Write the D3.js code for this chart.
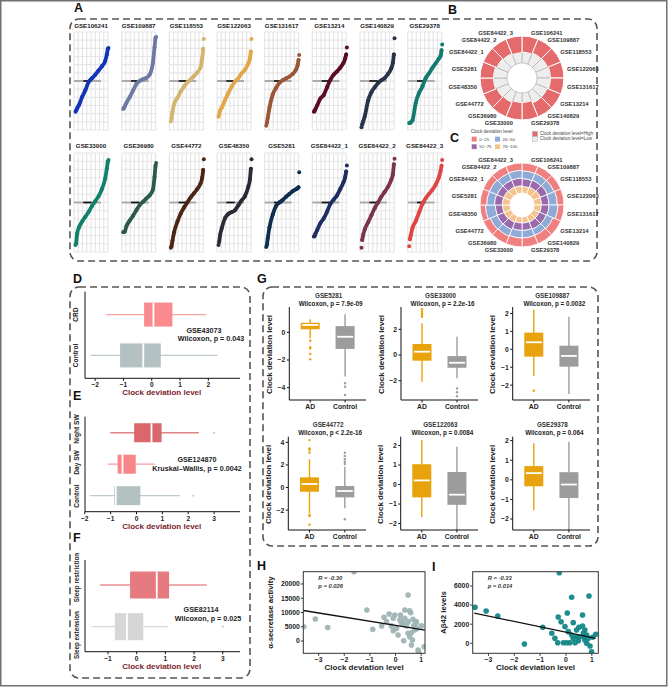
<!DOCTYPE html>
<html><head><meta charset="utf-8">
<script src="https://cdn.jsdelivr.net/npm/d3@7"></script>
<style>
body{margin:0;background:#fff}
svg{display:block}
text{font-family:"Liberation Sans",Arial,Helvetica,sans-serif}
</style></head>
<body><svg id="c" width="672" height="687"></svg>
<script>
// ---------------- DATA ----------------
const datasets = ["GSE106241","GSE109887","GSE118553","GSE122063","GSE131617","GSE13214","GSE140829","GSE29378",
                  "GSE33000","GSE36980","GSE44772","GSE48350","GSE5281","GSE84422_1","GSE84422_2","GSE84422_3"];
const curveColors = ["#1434b8","#6f7aa3","#d2b56f","#e3a74b","#9a5738","#5a0c2c","#273349","#137a6e",
                     "#12806f","#2c5a47","#4c2517","#2b2b37","#0f2f4f","#1f2d63","#7a3646","#e04545"];
const rankQuantiles = [0,.02,.05,.1,.2,.3,.4,.5,.6,.7,.8,.9,.95,.98,1];
const sortedDeviation = [
 [-2.2,-2.1,-1.95,-1.74,-1.15,-0.65,-0.05,0.2,0.45,0.75,1.05,1.43,1.9,2.3,2.35],
 [-2.0,-1.95,-1.8,-1.55,-1.15,-0.68,-0.22,0.0,0.13,0.22,0.45,1.31,2.4,3.1,3.15],
 [-2.9,-2.7,-2.2,-1.65,-1.2,-0.75,-0.4,-0.1,0.12,0.35,0.6,1.0,1.6,2.3,3.0],
 [-2.55,-2.4,-2.1,-1.9,-1.35,-0.85,-0.4,-0.05,0.2,0.55,0.8,1.25,1.6,2.1,3.0],
 [-3.2,-3.0,-2.6,-1.9,-0.95,-0.5,-0.12,0.05,0.18,0.3,0.5,0.8,1.1,1.5,1.85],
 [-2.2,-2.15,-2.0,-1.75,-1.25,-1.0,-0.45,0.08,0.45,0.68,0.95,1.31,1.6,1.9,2.4],
 [-3.3,-3.1,-2.9,-2.5,-1.4,-0.8,-0.45,-0.15,0.05,0.2,0.5,0.9,1.3,1.9,3.05],
 [-3.0,-3.0,-2.95,-2.8,-1.55,-0.85,-0.4,0.2,0.55,0.93,1.25,1.6,1.79,2.2,2.6],
 [-3.0,-2.9,-2.2,-1.8,-1.35,-1.0,-0.65,-0.25,0.1,0.45,0.95,1.7,2.4,2.9,3.0],
 [-2.1,-2.08,-2.05,-1.67,-1.28,-0.93,-0.55,-0.18,0.05,0.28,0.5,0.9,1.8,2.6,2.8],
 [-3.2,-3.1,-2.7,-2.1,-1.35,-0.78,-0.35,0.0,0.36,0.65,0.95,1.35,1.75,2.3,3.05],
 [-3.0,-2.8,-2.3,-1.8,-1.1,-0.8,-0.68,-0.55,-0.2,0.15,0.45,1.1,1.6,2.38,3.05],
 [-3.15,-3.0,-2.5,-1.75,-0.85,-0.24,0.0,0.18,0.4,0.6,0.8,0.93,1.0,1.07,2.14],
 [-2.4,-2.38,-2.2,-1.95,-1.45,-1.12,-0.65,-0.1,0.2,0.5,0.95,1.45,1.8,2.2,2.62],
 [-3.2,-2.65,-2.3,-1.9,-1.4,-0.9,-0.4,0.0,0.4,0.75,1.1,1.6,2.0,2.7,3.1],
 [-3.1,-2.6,-2.3,-1.8,-1.3,-0.7,-0.1,0.3,0.6,0.9,1.25,1.8,2.2,2.6,3.0]
];
// B: share of samples with low clock deviation
const lowShare = [0.40,0.45,0.47,0.50,0.50,0.45,0.45,0.35,0.35,0.42,0.45,0.50,0.50,0.45,0.42,0.38];
// C: shares per deviation-level quartile
const share76to100 = [.22,.25,.27,.25,.24,.22,.22,.20,.20,.23,.25,.25,.26,.26,.25,.24];
const share51to75  = [.26,.25,.25,.25,.26,.26,.26,.25,.25,.26,.25,.24,.26,.24,.25,.26];
const share26to50  = [.26,.25,.24,.28,.30,.24,.22,.25,.25,.24,.25,.33,.26,.28,.25,.26];
const share0to25   = [.26,.25,.24,.22,.20,.28,.30,.30,.30,.27,.25,.18,.22,.22,.25,.24];
const quartileLabels = ["0~25","26~50","51~75","76~100"];
const quartileColors = ["#f07f80","#8eaad6","#9a6aac","#f4c38e"];

// D/E/F boxplots: [lo, q1, median, q3, hi]
const dGroups = ["CRD","Control"];
const dStats = [[-1.61,-0.27,0.06,0.73,1.92],[-2.16,-1.12,-0.30,0.32,2.32]];
const dOutliers = [[],[]];
const eGroups = ["Night SW","Day SW","Control"];
const eStats = [[-1.01,-0.09,0.58,0.97,2.41],[-1.11,-0.73,-0.54,-0.03,0.71],[-1.80,-0.86,-0.80,0.15,1.67]];
const eOutliers = [[3.0],[],[2.19]];
const fGroups = ["Sleep restriction","Sleep extension"];
const fStats = [[-1.28,-0.23,0.70,1.13,2.44],[-1.57,-0.76,-0.34,0.23,1.10]];
const fOutliers = [[],[3.0]];

// G boxplots
const gTitles = ["GSE5281","GSE33000","GSE109887","GSE44772","GSE122063","GSE29378"];
const gTests = ["Wilcoxon, p = 7.9e-09","Wilcoxon, p = 2.2e-16","Wilcoxon, p = 0.0032",
                "Wilcoxon, p < 2.2e-16","Wilcoxon, p = 0.0084","Wilcoxon, p = 0.064"];
const gGroups = ["AD","Control"];
const gTicks = [[0,-2,-4],[2,0,-2],[2,1,0,-1,-2],[4,2,0,-2],[2,1,0,-1,-2],[2,1,0,-1,-2]];
const gYDomains = [[-4.89,1.83],[-3.5,3.74],[-2.83,2.36],[-3.76,4.5],[-2.33,2.45],[-2.56,2.2]];
const gStatsAD = [[-0.43,0.22,0.53,0.69,0.94],[-2.08,-0.44,0.26,0.86,2.47],[-1.49,-0.41,0.39,0.93,2.2],
                  [-2.28,-0.37,0.31,0.9,2.5],[-1.66,-0.66,0.21,1.04,2.28],[-1.55,-0.33,0.34,0.7,1.86]];
const gStatsCtrl = [[-3.2,-1.2,-0.32,0.45,1.3],[-1.81,-0.99,-0.6,-0.08,1.42],[-2.5,-0.97,-0.37,0.2,1.82],
                    [-1.84,-0.87,-0.31,0.13,1.84],[-2.33,-1.04,-0.52,0.64,1.93],[-2.56,-0.93,-0.24,0.39,1.94]];
const gOutAD = [[-0.61,-1.08,-1.16,-1.57,-1.95],[2.98,3.11,3.24,3.37,3.56],[-2.31],
                [4.2,3.47,3.32,3.08,-2.43,-2.52,-3.3],[],[]];
const gOutCtrl = [[-3.68,-3.93,-4.53],[-2.6,-2.9,-3.2],[],[3.08,2.79,2.5,2.28,2.08,-2.81],[],[]];

// H / I scatter
const hX = [-1.62,-3.58,-3.13,-2.65,-1.12,-0.89,-0.45,-0.25,-0.03,0.19,0.49,0.55,0.59,-0.35,-0.16,-0.09,0.04,0.17,0.29,0.32,0.10,0.36,0.43,0.49,0.55,0.62,0.66,0.68,0.71,0.75,0.79,0.81,0.84,0.88,0.90,1.01,1.12,0.62,0.49,0.36,0.23,-0.09,-0.54];
const hY = [24300,5000,7700,4700,10900,4100,8300,9500,9100,9100,16100,10600,9900,6800,5300,3600,4400,7400,6200,100,2100,8000,5300,2700,1500,-1400,350,7600,5300,3900,6200,6800,4400,-3200,-3800,5300,-2000,2900,6800,10900,6400,8000,5300];
const hFitX = [-3.6,1.15], hFitY = [10700,3800];
const iX = [-3.52,-3.09,-2.64,-1.61,-0.9,-0.26,0.22,0.89,0.05,-0.3,-0.19,0.28,-0.55,-0.43,-0.32,0.5,0.41,0.73,0.8,0.93,0.99,1.15,-0.04,0.09,0.22,0.41,0.51,0.64,0.7,0.28,0.48,-0.1,0.03,0.15,0.35,0.67,0.8,0.73,0.64,0.86,1.03];
const iY = [3770,3380,2860,-70,1680,7390,4820,4950,3170,2750,2260,2160,1050,520,60,1680,690,350,0,-280,-880,940,1740,1220,870,1390,630,1810,630,520,270,60,60,60,60,1050,870,1390,2960,520,630];
const iFitX = [-3.55,1.15], iFitY = [3150,520];

// ---------------- DRAW ----------------
const svg = d3.select("#c");
const BOLD = "bold";
svg.append("rect").attr("x",0.75).attr("y",0.75).attr("width",666).attr("height",685)
  .attr("fill","none").attr("stroke","#707070").attr("stroke-width",1.5);

function dashedBox(x,y,w,h){
  svg.append("rect").attr("x",x).attr("y",y).attr("width",w).attr("height",h).attr("rx",9)
    .attr("fill","none").attr("stroke","#555").attr("stroke-width",1.6).attr("stroke-dasharray","7,4");
}
dashedBox(70,19,527,242);
dashedBox(70,287,180,391);
dashedBox(263,287,335,259);

function panelLabel(t,x,y){
  svg.append("text").attr("x",x).attr("y",y).text(t).attr("font-size",12.5).attr("font-weight",BOLD).attr("fill","#111");
}
[["A",74,12],["B",448,14],["C",450,142],["D",73,283],["E",73,400],["F",73,542],["G",257,283],["H",257,570],["I",432,571]]
  .forEach(d=>panelLabel(...d));

function txt(g,t,x,y,size,opts={}){
  const e = g.append("text").attr("x",x).attr("y",y).text(t).attr("font-size",size)
    .attr("font-weight",opts.weight||BOLD).attr("fill",opts.fill||"#222")
    .attr("text-anchor",opts.anchor||"start");
  if(opts.italic) e.attr("font-style","italic");
  if(opts.rotate) e.attr("transform",`rotate(-90,${x},${y})`);
  if(opts.dy) e.attr("dy",opts.dy);
  return e;
}

// ---- Panel A ----
const colW = 47.67, gx0 = 74, gw = 34;
const rowsY = [[32,130],[153,252]];
const titleY = [27.5,147.5];
datasets.forEach((name,i)=>{
  const row = Math.floor(i/8), col = i%8;
  const x0 = gx0 + col*colW;
  const [yt,yb] = rowsY[row];
  const g = svg.append("g");
  const xs = d3.scaleLinear().domain([0,1]).range([x0+1.5,x0+gw+0.5]);
  const ys = d3.scaleLinear().domain([-3.5,3.5]).range([yb,yt]);
  for(let k=0;k<=8;k++){
    const xx = x0 + k*gw/8;
    g.append("line").attr("x1",xx).attr("x2",xx).attr("y1",yt).attr("y2",yb).attr("stroke","#e6e6e6").attr("stroke-width",1.2);
  }
  for(let k=0;k<=12;k++){
    const yy = yt + k*(yb-yt)/12;
    g.append("line").attr("x1",x0).attr("x2",x0+gw).attr("y1",yy).attr("y2",yy).attr("stroke","#e6e6e6").attr("stroke-width",1.2);
  }
  g.append("line").attr("x1",x0).attr("x2",x0+27).attr("y1",ys(0)).attr("y2",ys(0)).attr("stroke","#ababab").attr("stroke-width",2);
  g.append("line").attr("x1",x0+9.3).attr("x2",x0+17.7).attr("y1",ys(0)).attr("y2",ys(0)).attr("stroke","#111").attr("stroke-width",1.6);
  const pts = rankQuantiles.map((q,k)=>[q,sortedDeviation[i][k]]);
  const line = d3.line().x(d=>xs(d[0])).y(d=>ys(d[1])).curve(d3.curveMonotoneX);
  g.append("path").attr("d",line(pts.slice(1,14))).attr("fill","none").attr("stroke",curveColors[i])
    .attr("stroke-width",3.8).attr("stroke-linecap","round");
  g.selectAll("circle").data(pts).enter().append("circle").attr("cx",d=>xs(d[0])).attr("cy",d=>ys(d[1]))
    .attr("r",2).attr("fill",curveColors[i]);
  txt(g,name,x0+gw/2,titleY[row],6.2,{anchor:"middle",fill:"#222"});
});

// ---- Panels B & C (radial) ----
const angle = d3.scaleBand().domain(datasets).range([0,2*Math.PI]);
function radialLabels(g,cx,cy,R){
  datasets.forEach(name=>{
    const th = angle(name)+angle.bandwidth()/2;
    const s = Math.sin(th);
    const x = cx + R*s, y = cy - R*Math.cos(th);
    txt(g,name,x,y,5.8,{anchor: s>0.05?"start":(s<-0.05?"end":"middle"),dy:"0.35em",fill:"#333"});
  });
}
{
  const cx=522, cy=78;
  const r = d3.scaleLinear().domain([0,1]).range([15,42]);
  const g = svg.append("g").attr("transform",`translate(${cx},${cy})`);
  const arc = d3.arc().innerRadius(d=>r(d.a)).outerRadius(d=>r(d.b))
    .startAngle(d=>angle(d.n)).endAngle(d=>angle(d.n)+angle.bandwidth());
  datasets.forEach((n,i)=>{
    g.append("path").attr("d",arc({n,a:0,b:lowShare[i]})).attr("fill","#eeeeee").attr("stroke","#a8a8a8").attr("stroke-width",0.6);
    g.append("path").attr("d",arc({n,a:lowShare[i],b:1})).attr("fill","#e46a6b").attr("stroke","#fff").attr("stroke-width",1);
  });
  radialLabels(svg.append("g"),cx,cy,46);
}
{
  const cx=522, cy=205;
  const r = d3.scaleLinear().domain([0,1]).range([12,42]);
  const g = svg.append("g").attr("transform",`translate(${cx},${cy})`);
  const arc = d3.arc().innerRadius(d=>r(d.a)).outerRadius(d=>r(d.b))
    .startAngle(d=>angle(d.n)).endAngle(d=>angle(d.n)+angle.bandwidth());
  const layers = [share76to100,share51to75,share26to50,share0to25];
  const layerColors = [quartileColors[3],quartileColors[2],quartileColors[1],quartileColors[0]];
  datasets.forEach((n,i)=>{
    let acc = 0;
    layers.forEach((L,k)=>{
      g.append("path").attr("d",arc({n,a:acc,b:acc+L[i]})).attr("fill",layerColors[k]).attr("stroke","#fff").attr("stroke-width",0.8);
      acc += L[i];
    });
  });
  radialLabels(svg.append("g"),cx,cy,46);
}
// legends B/C
{
  const g = svg.append("g");
  txt(g,"Clock deviation level",470.7,133,4.6,{weight:"normal",fill:"#444"});
  const pos = [[471.7,136.7],[495,136.7],[471.7,144.3],[495,144.3]];
  quartileLabels.forEach((l,k)=>{
    g.append("rect").attr("x",pos[k][0]).attr("y",pos[k][1]).attr("width",5).attr("height",4.8).attr("fill",quartileColors[k]);
    txt(g,l,pos[k][0]+7.5,pos[k][1]+3.8,4.4,{weight:"normal",fill:"#444"});
  });
  g.append("rect").attr("x",532.5).attr("y",131.5).attr("width",5).attr("height",4.8).attr("fill","#e46a6b").attr("stroke","#999").attr("stroke-width",0.4);
  g.append("rect").attr("x",532.5).attr("y",136.6).attr("width",5).attr("height",4.8).attr("fill","#eeeeee").attr("stroke","#999").attr("stroke-width",0.4);
  txt(g,"Clock deviation level=High",540,135.3,4.5,{weight:"normal",fill:"#444"});
  txt(g,"Clock deviation level=Low",540,140.4,4.5,{weight:"normal",fill:"#444"});
}

// ---- Panels D/E/F horizontal boxplots ----
function hBoxPanel(cfg){
  const g = svg.append("g");
  const x = d3.scaleLinear().domain(cfg.xDomain).range([85,240]);
  const y = d3.scalePoint().domain(cfg.groups).range([cfg.yTop,cfg.yBot]).padding(cfg.pad);
  cfg.groups.forEach((grp,k)=>{
    const [lo,q1,md,q3,hi] = cfg.stats[k];
    const cy = y(grp), h = cfg.boxH;
    g.append("line").attr("x1",x(lo)).attr("x2",x(hi)).attr("y1",cy).attr("y2",cy).attr("stroke",cfg.whisk[k]).attr("stroke-width",1.3);
    g.append("rect").attr("x",x(q1)).attr("y",cy-h/2).attr("width",x(q3)-x(q1)).attr("height",h).attr("fill",cfg.fill[k]);
    g.append("line").attr("x1",x(md)).attr("x2",x(md)).attr("y1",cy-h/2).attr("y2",cy+h/2).attr("stroke","#fff").attr("stroke-width",1.8);
    cfg.out[k].forEach(o=> g.append("circle").attr("cx",x(o)).attr("cy",cy).attr("r",0.9).attr("fill","#bdbdbd"));
    const ly = cfg.labelY ? cfg.labelY[k] : cy;
    txt(g,grp,78.5,ly,cfg.ylabSize,{anchor:"middle",rotate:true,fill:"#222"});
  });
  g.append("line").attr("x1",85).attr("x2",85).attr("y1",cfg.yTop).attr("y2",cfg.yBot).attr("stroke","#111").attr("stroke-width",1);
  g.append("line").attr("x1",85).attr("x2",240).attr("y1",cfg.yBot).attr("y2",cfg.yBot).attr("stroke","#111").attr("stroke-width",1);
  cfg.ticks.forEach(t=>{
    g.append("line").attr("x1",x(t)).attr("x2",x(t)).attr("y1",cfg.yBot).attr("y2",cfg.yBot+2.5).attr("stroke","#111");
    txt(g,d3.format("d")(t),x(t),cfg.yBot+9,6.6,{anchor:"middle",fill:"#222"});
  });
  txt(g,"Clock deviation level",161.7,cfg.yBot+17,8,{anchor:"middle",fill:"#7a1e2c"});
  txt(g,cfg.gse,cfg.annX,cfg.annY,7.2,{anchor:"middle",fill:"#222"});
  txt(g,cfg.test,cfg.annX+cfg.testDx,cfg.annY+8.5,7.2,{anchor:"middle",fill:"#222"});
}
hBoxPanel({groups:dGroups,stats:dStats,out:dOutliers,xDomain:[-2.36,3.12],yTop:291.7,yBot:378.3,pad:0.56,boxH:24,
  fill:["#f98b8f","#b4c1c2"],whisk:["#f6a3a5","#bccacb"],ticks:[-2,-1,0,1,2],ylabSize:6.6,
  gse:"GSE43073",test:"Wilcoxon, p = 0.043",annX:204,annY:332.5,testDx:7});
hBoxPanel({groups:eGroups,stats:eStats,out:eOutliers,xDomain:[-1.99,4.0],yTop:416.7,yBot:511.7,pad:0.51,boxH:19,
  fill:["#d9676b","#f7868a","#b4c1c2"],whisk:["#df8387","#f59ca0","#bccacb"],ticks:[-2,-1,0,1,2,3],ylabSize:6.6,
  labelY:[429,462.5,496],
  gse:"GSE124870",test:"Kruskal\u2013Wallis, p = 0.0042",annX:197,annY:462,testDx:0});
hBoxPanel({groups:fGroups,stats:fStats,out:fOutliers,xDomain:[-1.8,3.6],yTop:560,yBot:651.7,pad:0.6,boxH:27,
  fill:["#e57b80","#d6d6d6"],whisk:["#ea8f93","#dadada"],ticks:[-1,0,1,2,3],ylabSize:6.3,
  labelY:[577.5,635],
  gse:"GSE82114",test:"Wilcoxon, p = 0.025",annX:201,annY:612,testDx:7});

// ---- Panel G ----
const gXs = [[289.3,366],[401,478],[512.7,590],[288.3,366],[400.7,478],[512.7,590]];
const gYs = [[307,400],[307,400],[307,400],[436.7,530],[436.7,530],[436.7,530]];
const gColors = ["#e8a20c","#9c9c9c"];
gTitles.forEach((t,i)=>{
  const g = svg.append("g");
  const [x0,x1] = gXs[i], [y0,y1] = gYs[i];
  const x = d3.scalePoint().domain(gGroups).range([x0,x1]).padding(0.6);
  const y = d3.scaleLinear().domain(gYDomains[i]).range([y1,y0]);
  const stats = [gStatsAD[i],gStatsCtrl[i]], outs = [gOutAD[i],gOutCtrl[i]];
  const bw = 19;
  gGroups.forEach((grp,k)=>{
    const [lo,q1,md,q3,hi] = stats[k]; const cx = x(grp);
    g.append("line").attr("x1",cx).attr("x2",cx).attr("y1",y(lo)).attr("y2",y(hi)).attr("stroke",gColors[k]).attr("stroke-width",1.4);
    g.append("rect").attr("x",cx-bw/2).attr("y",y(q3)).attr("width",bw).attr("height",y(q1)-y(q3)).attr("fill",gColors[k]);
    g.append("line").attr("x1",cx-bw/2+1.5).attr("x2",cx+bw/2-1.5).attr("y1",y(md)).attr("y2",y(md)).attr("stroke","#fff").attr("stroke-width",1.8);
    outs[k].forEach(o=> g.append("circle").attr("cx",cx).attr("cy",y(o)).attr("r",1.2).attr("fill",gColors[k]));
    g.append("line").attr("x1",cx).attr("x2",cx).attr("y1",y1).attr("y2",y1+2.5).attr("stroke","#111");
    txt(g,grp,cx,y1+8.8,6.8,{anchor:"middle",fill:"#222"});
  });
  g.append("line").attr("x1",x0).attr("x2",x0).attr("y1",y0).attr("y2",y1).attr("stroke","#111").attr("stroke-width",1);
  g.append("line").attr("x1",x0).attr("x2",x1).attr("y1",y1).attr("y2",y1).attr("stroke","#111").attr("stroke-width",1);
  gTicks[i].forEach(tk=>{
    g.append("line").attr("x1",x0-2.5).attr("x2",x0).attr("y1",y(tk)).attr("y2",y(tk)).attr("stroke","#111");
    txt(g,d3.format("d")(tk),x0-4,y(tk),6.8,{anchor:"end",dy:"0.35em",fill:"#222"});
  });
  txt(g,"Clock deviation level",x0-17.5,(y0+y1)/2+1,8,{anchor:"middle",rotate:true,fill:"#222"});
  const cxT = (x0+x1)/2+1;
  txt(g,t,cxT,y0-9.5,6.3,{anchor:"middle",fill:"#333"});
  txt(g,gTests[i],cxT+2,y0-1.5,6.3,{anchor:"middle",fill:"#222"});
});

// ---- Panels H & I scatter ----
function scatter(cfg){
  const g = svg.append("g");
  const x = d3.scaleLinear().domain(cfg.xDomain).range([cfg.x0,cfg.x1]);
  const y = d3.scaleLinear().domain(cfg.yDomain).range([cfg.y1,cfg.y0]);
  const clipId = "clip"+cfg.id;
  g.append("clipPath").attr("id",clipId).append("rect").attr("x",cfg.x0).attr("y",cfg.y0).attr("width",cfg.x1-cfg.x0).attr("height",cfg.y1-cfg.y0);
  const inner = g.append("g").attr("clip-path",`url(#${clipId})`);
  inner.selectAll("circle").data(cfg.xs.map((v,k)=>[v,cfg.ys[k]])).enter().append("circle")
    .attr("cx",d=>x(d[0])).attr("cy",d=>y(d[1])).attr("r",2.8).attr("fill",cfg.color).attr("fill-opacity",0.95);
  const fit = cfg.fitX.map((v,k)=>[v,cfg.fitY[k]]);
  inner.append("path").attr("d",d3.line().x(d=>x(d[0])).y(d=>y(d[1]))(fit)).attr("stroke","#111").attr("stroke-width",1.3).attr("fill","none");
  g.append("rect").attr("x",cfg.x0).attr("y",cfg.y0).attr("width",cfg.x1-cfg.x0).attr("height",cfg.y1-cfg.y0)
    .attr("fill","none").attr("stroke","#333").attr("stroke-width",1);
  cfg.xTicks.forEach(t=>{
    g.append("line").attr("x1",x(t)).attr("x2",x(t)).attr("y1",cfg.y1).attr("y2",cfg.y1+2.5).attr("stroke","#333");
    txt(g,d3.format("d")(t),x(t),cfg.y1+9,6.8,{anchor:"middle",fill:"#222"});
  });
  cfg.yTicks.forEach(t=>{
    g.append("line").attr("x1",cfg.x0-2.5).attr("x2",cfg.x0).attr("y1",y(t)).attr("y2",y(t)).attr("stroke","#333");
    txt(g,String(t),cfg.x0-3.5,y(t),6.8,{anchor:"end",dy:"0.35em",fill:"#222"});
  });
  txt(g,"Clock deviation level",(cfg.x0+cfg.x1)/2,cfg.y1+16.5,8,{anchor:"middle",fill:"#222"});
  txt(g,cfg.ytitle,cfg.ytX,(cfg.y0+cfg.y1)/2,7.8,{anchor:"middle",rotate:true,fill:"#222"});
  txt(g,cfg.r,cfg.x0+15,cfg.y0+8.5,5.8,{italic:true,fill:"#333"});
  txt(g,cfg.p,cfg.x0+15,cfg.y0+16,5.8,{italic:true,fill:"#333"});
}
scatter({id:"H",xs:hX,ys:hY,fitX:hFitX,fitY:hFitY,xDomain:[-3.6,1.15],yDomain:[-4300,24300],
  x0:303.3,x1:425,y0:571.7,y1:653.3,color:"#9fb4b4",xTicks:[-3,-2,-1,0,1],yTicks:[0,5000,10000,15000,20000],
  ytitle:"\u03b1-secretase activity",ytX:272.7,r:"R = -0.30",p:"p = 0.026"});
scatter({id:"I",xs:iX,ys:iY,fitX:iFitX,fitY:iFitY,xDomain:[-3.61,1.25],yDomain:[-1050,7500],
  x0:472.7,x1:598.3,y0:571.7,y1:653.3,color:"#138787",xTicks:[-3,-2,-1,0,1],yTicks:[0,2000,4000,6000],
  ytitle:"A\u03b242 levels",ytX:446,r:"R = -0.33",p:"p = 0.014"});
</script>
</body></html>
